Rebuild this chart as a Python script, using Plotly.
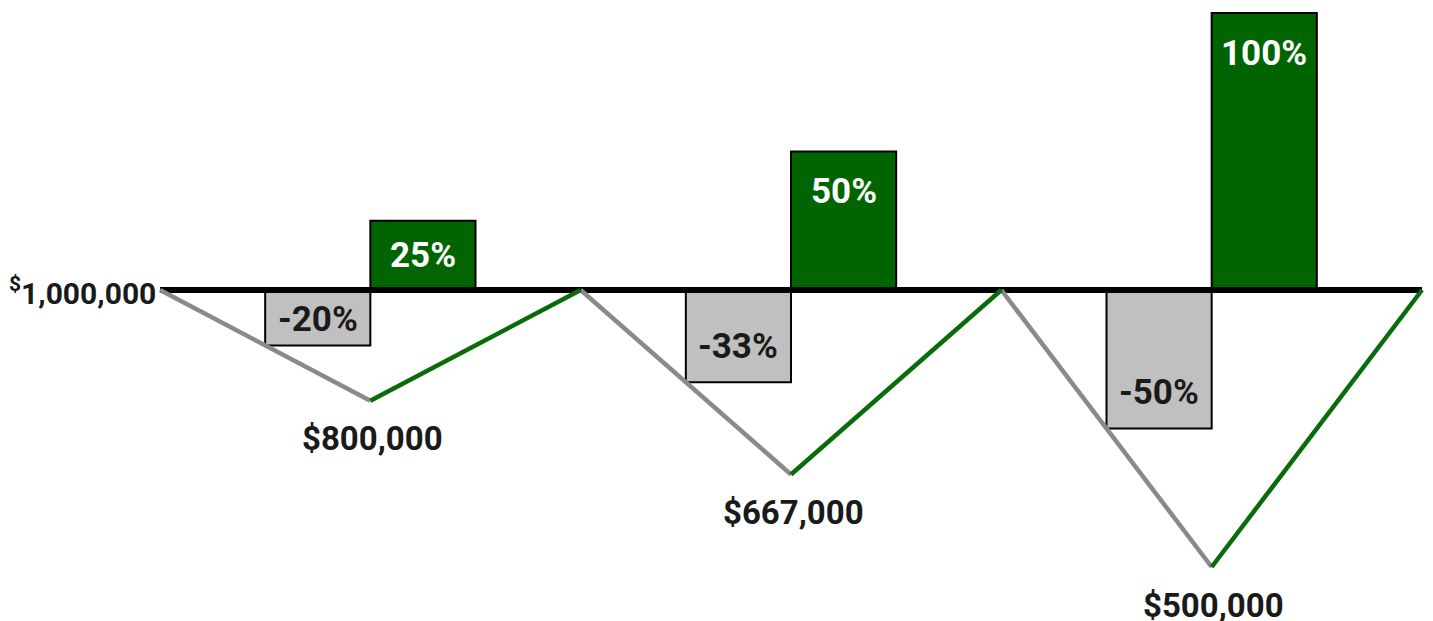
import plotly.graph_objects as go

# ---------------- data ----------------
BASE = 1000000
loss_pct = [-20, -33.3, -50]
loss_labels = ["-20%", "-33%", "-50%"]
gain_pct = [25, 50, 100]
gain_labels = ["25%", "50%", "100%"]
trough_values = [800000, 667000, 500000]
trough_labels = ["$800,000", "$667,000", "$500,000"]
start_label = "<sup>$</sup>1,000,000"

# ---------------- styling ----------------
GREEN = "#006400"
GREEN_LINE = "#096b09"
GRAY_BAR = "#c0c0c0"
GRAY_LINE = "#8a8a8a"
FONT = "Roboto"
W, H = 1433, 621

# x positions: each cycle spans 2 units (start, trough, recovery)
n = len(trough_values)
starts = [2 * i for i in range(n)]
troughs = [s + 1 for s in starts]
ends = [s + 2 for s in starts]
loss_x = [t - 0.25 for t in troughs]
gain_x = [t + 0.25 for t in troughs]

# axis ranges (percent axis); dollar axis tied so 1% = BASE/200
px_per_x = (1422 - 160) / (2 * n)
x_range = [-160 / px_per_x, 2 * n + (W - 1422) / px_per_x]
px_per_pct = 2.77
y_range = [-(H - 290) / px_per_pct, 290 / px_per_pct]
y2_range = [BASE + r * BASE / 200 for r in y_range]

fig = go.Figure()

# bars
fig.add_trace(go.Bar(x=loss_x, y=loss_pct, width=0.5,
                     marker=dict(color=GRAY_BAR, line=dict(color="black", width=2)),
                     showlegend=False, hoverinfo="skip"))
fig.add_trace(go.Bar(x=gain_x, y=gain_pct, width=0.5,
                     marker=dict(color=GREEN, line=dict(color="black", width=2)),
                     showlegend=False, hoverinfo="skip"))

# value path lines (dollar axis)
gx, gy, rx, ry = [], [], [], []
for s, t, e, v in zip(starts, troughs, ends, trough_values):
    gx += [s, t, None]
    gy += [BASE, v, None]
    rx += [t, e, None]
    ry += [v, BASE, None]

# baseline
fig.add_trace(go.Scatter(x=[0, 2 * n], y=[0, 0], mode="lines",
                         line=dict(color="black", width=6),
                         showlegend=False, hoverinfo="skip"))
fig.add_trace(go.Scatter(x=gx, y=gy, mode="lines", yaxis="y2",
                         line=dict(color=GRAY_LINE, width=4.5),
                         showlegend=False, hoverinfo="skip"))
fig.add_trace(go.Scatter(x=rx, y=ry, mode="lines", yaxis="y2",
                         line=dict(color=GREEN_LINE, width=4.5),
                         showlegend=False, hoverinfo="skip"))

annotations = []
off_units = 40 / px_per_pct
for x, v, lab in zip(loss_x, loss_pct, loss_labels):
    ylab = v + min(38 / px_per_pct, abs(v) / 2)
    annotations.append(dict(x=x, y=ylab, text=lab, showarrow=False,
                            font=dict(family=FONT, size=35, color="#1a1a1a", weight=700),
                            xanchor="center", yanchor="middle", yshift=-2))
for x, v, lab in zip(gain_x, gain_pct, gain_labels):
    ylab = v - min(off_units, abs(v) / 2)
    annotations.append(dict(x=x, y=ylab, text=lab, showarrow=False,
                            font=dict(family=FONT, size=35, color="white", weight=700),
                            xanchor="center", yanchor="middle"))
for t, v, lab in zip(troughs, trough_values, trough_labels):
    annotations.append(dict(x=t, y=v, yref="y2", text=lab, showarrow=False,
                            font=dict(family=FONT, size=33, color="#1a1a1a", weight=700),
                            xanchor="center", yanchor="middle", yshift=-38, xshift=2))
annotations.append(dict(x=0, y=BASE, yref="y2", text=start_label, showarrow=False,
                        font=dict(family=FONT, size=30, color="#1a1a1a", weight=700),
                        xanchor="right", yanchor="middle", xshift=-2, yshift=-1))

fig.update_layout(
    width=W, height=H,
    margin=dict(l=0, r=0, t=0, b=0),
    paper_bgcolor="white", plot_bgcolor="white",
    barmode="overlay",
    xaxis=dict(range=x_range, visible=False, fixedrange=True),
    yaxis=dict(range=y_range, visible=False, fixedrange=True),
    yaxis2=dict(range=y2_range, visible=False, overlaying="y", fixedrange=True),
    annotations=annotations,
)

fig.write_html("out.html")
